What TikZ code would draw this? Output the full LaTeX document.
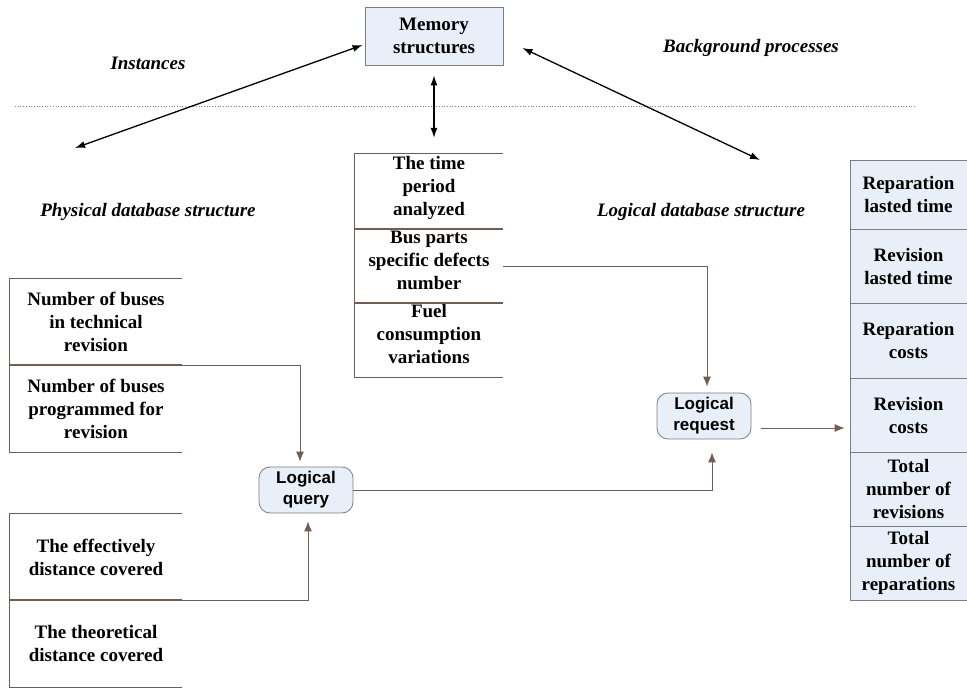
\documentclass[tikz,border=0pt]{standalone}
\usepackage{fontspec}
\setmainfont{Liberation Serif}
\setsansfont{Liberation Sans}
\usetikzlibrary{arrows.meta}
\definecolor{boxfill}{RGB}{233,239,248}
\definecolor{boxline}{RGB}{125,125,125}
\definecolor{flowline}{RGB}{112,94,86}

\begin{document}
\begin{tikzpicture}[x=1pt,y=-1pt,
  cell/.style={inner sep=0pt,align=center,font=\bfseries\fontsize{19}{23}\selectfont},
  midcell/.style={cell,minimum width=148pt,minimum height=74pt,text height=58pt,text depth=11pt},
  tabline/.style={draw=flowline,line width=0.8pt},
  bluecell/.style={cell,draw=boxline,fill=boxfill,line width=0.8pt,minimum width=117pt},
  lbl/.style={font=\bfseries\itshape\fontsize{19}{23}\selectfont},
  query/.style={draw=boxline,fill=boxfill,rounded corners=11pt,line width=0.8pt,
    minimum width=94pt,minimum height=46pt,inner sep=0pt,align=center,
    font=\sffamily\bfseries\fontsize{17}{21}\selectfont},
  flow/.style={draw=flowline,line width=0.9pt,-{Latex[length=10pt,width=8pt]}},
  dbl/.style={black,line width=1.3pt,{Latex[length=10pt,width=7pt]}-{Latex[length=10pt,width=7pt]}}]

  \useasboundingbox (0,0) rectangle (967,688);

  \node[cell,draw=boxline,fill=boxfill,line width=0.8pt,minimum width=138pt,minimum height=58pt] at (434,36) (mem) {Memory\\structures};

  \node[lbl] at (148,63) (inst) {Instances};
  \node[lbl] at (751,48) (bgp) {Background processes};
  \node[lbl] at (148,212) (phys) {Physical database structure};
  \node[lbl] at (701,212) (logi) {Logical database structure};

  \draw[gray,dotted,line width=0.7pt] (15,106) -- (915,106);

  \coordinate (instend) at (75,148);
  \coordinate (bgpend) at (760,160);
  \draw[dbl] ([xshift=-2pt,yshift=-9pt]mem.west) -- (instend);
  \draw[dbl] ([xshift=19pt,yshift=-12pt]mem.east) -- (bgpend);

  % middle table
  \node[midcell,minimum height=75pt] at (429,191.5) (time) {The time\\period\\analyzed};
  \node[midcell] at (429,266) (bus) {Bus parts\\specific defects\\number};
  \node[midcell] at (429,340) (fuel) {Fuel\\consumption\\variations};
  \draw[dbl,shorten <=10pt,shorten >=16pt] (mem.south) -- (mem.south |- time.north);

  % left tables
  \node[cell,minimum width=172pt,minimum height=86pt] at (96,322) (buses1) {Number of buses\\in technical\\revision};
  \node[cell,minimum width=172pt,minimum height=87pt] at (96,408.5) (buses2) {Number of buses\\programmed for\\revision};
  \node[cell,minimum width=172pt,minimum height=86pt] at (96,557) (dist1) {The effectively\\distance covered};
  \node[cell,minimum width=172pt,minimum height=87pt] at (96,643.5) (dist2) {The theoretical\\distance covered};

  \foreach \c in {time,bus,fuel,buses1,buses2,dist1,dist2}
    \draw[tabline] (\c.north east) -- (\c.north west) -- (\c.south west) -- (\c.south east);

  % right table
  \node[bluecell,minimum height=69pt] at (908.5,194.5) (rlast) {Reparation\\lasted time};
  \node[bluecell,minimum height=74pt] at (908.5,266) (vlast) {Revision\\lasted time};
  \node[bluecell,minimum height=75pt] at (908.5,340.5) (rcost) {Reparation\\costs};
  \node[bluecell,minimum height=74pt] at (908.5,415) (vcost) {Revision\\costs};
  \node[bluecell,minimum height=74pt] at (908.5,489) (vtot) {Total\\number of\\revisions};
  \node[bluecell,minimum height=74pt] at (908.5,563) (rtot) {Total\\number of\\reparations};

  \node[query] at (306,490) (lquery) {Logical\\query};
  \node[query] at (704,416) (lreq) {Logical\\request};

  \draw[flow,shorten >=5pt] (buses1.south east) -| ([xshift=-6pt]lquery.north);
  \draw[flow,shorten >=8pt] (dist1.south east) -| ([xshift=2pt]lquery.south);
  \draw[flow,shorten >=6pt] (bus.east) -| ([xshift=3pt]lreq.north);
  \draw[flow,shorten >=13pt] (lquery.east) -| ([xshift=8pt]lreq.south);
  \draw[flow] ([xshift=10pt,yshift=-12pt]lreq.east) coordinate (reqout) -- ([xshift=-5pt]reqout -| vcost.west);

\end{tikzpicture}
\end{document}
